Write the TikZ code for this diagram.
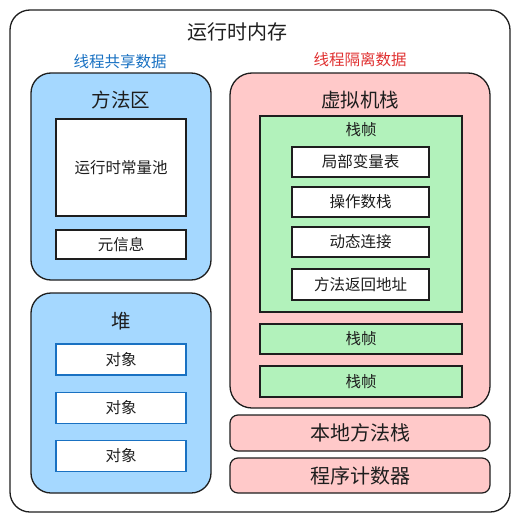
\documentclass[tikz,border=0pt]{standalone}
\usepackage{fontspec}
\setmainfont{Noto Sans CJK SC}
\definecolor{inkcol}{HTML}{1E1E1E}
\definecolor{sharefill}{HTML}{A5D8FF}
\definecolor{isofill}{HTML}{FFC9C9}
\definecolor{framefill}{HTML}{B2F2BB}
\definecolor{sharetext}{HTML}{1971C2}
\definecolor{isotext}{HTML}{E03131}
\begin{document}
\begin{tikzpicture}[x=1pt,y=1pt,yscale=-1,xscale=1,
  area/.style={draw=inkcol,line width=1.3pt,rounded corners=20pt,inner sep=0pt},
  cell/.style={draw=inkcol,fill=white,line width=1.2pt,inner sep=0pt,minimum width=130pt,font=\fontsize{15.5}{18}\selectfont,text=inkcol},
  heapcell/.style={cell,draw=sharetext},
  stackcell/.style={cell,minimum width=137pt,minimum height=30pt},
  framebox/.style={draw=inkcol,fill=framefill,line width=1.2pt,inner sep=0pt,minimum width=202pt,font=\fontsize{15.5}{18}\selectfont,text=inkcol},
  strip/.style={draw=inkcol,fill=isofill,line width=1.2pt,rounded corners=8pt,inner sep=0pt,minimum width=260pt,font=\fontsize{20}{22}\selectfont,text=inkcol},
  heading/.style={font=\fontsize{19.5}{22}\selectfont,text=inkcol,inner sep=0pt},
  tag/.style={font=\fontsize{15.5}{18}\selectfont,inner sep=0pt}]
\useasboundingbox (0,0) rectangle (520,522);

%Outer memory box
\node [area,minimum width=500pt,minimum height=502pt] (memory) at (260,261) {};
\node [heading,font=\fontsize{20}{22}\selectfont] (memorytitle) at (237,32) {运行时内存};

% shared part
\node [tag,text=sharetext] (sharedtag) at (120,62) {线程共享数据};
\node [area,fill=sharefill,minimum width=180pt,minimum height=207pt] (method) at (121,176.5) {};
\node [heading] (methodtitle) at (121,100) {方法区};
\node [cell,minimum height=97pt] (pool) at (121,167.5) {运行时常量池};
\node [cell,minimum height=29pt] (meta) at (121,244.5) {元信息};

\node [area,fill=sharefill,minimum width=180pt,minimum height=200pt] (heap) at (121,393) {};
\node [heading] (heaptitle) at (121,321) {堆};
\foreach \y [count=\i] in {359.5,408,456}
  \node [heapcell,minimum height=31pt] (object\i) at (121,\y) {对象};

% isolated part
\node [tag,text=isotext] (isotag) at (360,60) {线程隔离数据};
\node [area,fill=isofill,rounded corners=22pt,minimum width=260pt,minimum height=335pt] (vmstack) at (360,240.5) {};
\node [heading] (vmstacktitle) at (360,100) {虚拟机栈};

\node [framebox,minimum height=196pt] (frame) at (361,214) {};
\node [tag,text=inkcol] (frametitle) at (361,130) {栈帧};
\node [stackcell] (locals) at (360.5,162) {局部变量表};
\node [stackcell] (operands) at (360.5,202) {操作数栈};
\node [stackcell] (dynlink) at (360.5,242) {动态连接};
\node [stackcell,minimum height=31pt] (retaddr) at (360.5,284.5) {方法返回地址};

\node [framebox,minimum height=30pt] (frametwo) at (361,339) {栈帧};
\node [framebox,minimum height=31pt] (framethree) at (361,381.5) {栈帧};

\node [strip,minimum height=36pt] (native) at (360,433) {本地方法栈};
\node [strip,minimum height=35pt] (counter) at (360,475.5) {程序计数器};

\end{tikzpicture}
\end{document}
